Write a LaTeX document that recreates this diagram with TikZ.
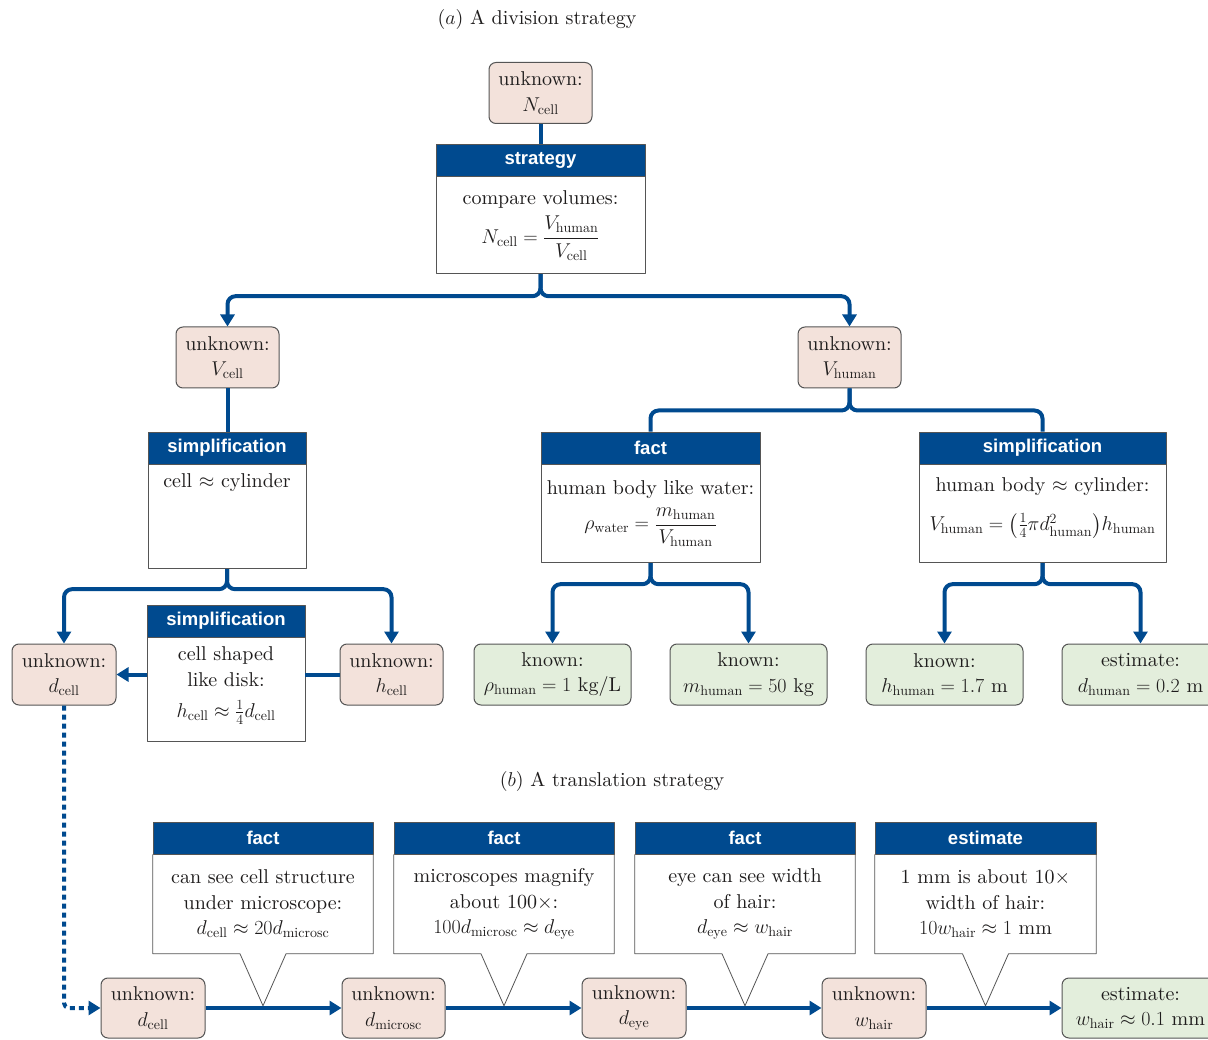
\RequirePackage{fix-cm}
\documentclass[tikz,border=0pt]{standalone}
\usepackage{amsmath}
\usepackage{fontspec}
\setmainfont{lmroman10-regular.otf}[ItalicFont=lmroman10-italic.otf, BoldFont=lmroman10-bold.otf]
\setsansfont{Liberation Sans}
\usetikzlibrary{arrows.meta,calc}
\definecolor{pblue}{RGB}{0,74,143}
\definecolor{unkfill}{RGB}{243,226,219}
\definecolor{knfill}{RGB}{227,238,220}
\definecolor{bordc}{RGB}{85,85,85}
\definecolor{txtc}{RGB}{30,28,28}
\newcommand\mytxt{\fontsize{20}{25.5}\selectfont}
\newcommand\hdrfont{\sffamily\bfseries\fontsize{18.5}{20}\selectfont}
\begin{document}
\begin{tikzpicture}[x=1pt,y=-1pt,line join=round,
  unk/.style={draw=bordc, fill=unkfill, line width=1pt, rounded corners=7pt, inner sep=0pt, align=center, font=\mytxt, text=txtc, minimum height=61pt},
  kn/.style={unk, fill=knfill},
  hdr/.style={draw=bordc, fill=pblue, line width=0.8pt, text=white, font=\hdrfont, minimum height=32pt, inner sep=0pt},
  bodyb/.style={draw=bordc, fill=white, line width=0.8pt, inner sep=0pt, align=center, font=\mytxt, text=txtc},
  calloutb/.style={fill=white, inner sep=0pt, align=center, font=\mytxt, text=txtc, minimum height=99pt},
  outl/.style={draw=bordc, line width=0.8pt},
  txt/.style={font=\mytxt, text=txtc, inner sep=0pt, align=center},
  conn/.style={draw=pblue, line width=4pt},
  arr/.style={-{Triangle[length=12pt,width=14pt]}},
  brc/.style={rounded corners=8pt}]
\clip (0,0) rectangle (1208,1040);
\fill[white] (0,0) rectangle (1208,1040);

% ---------- (a) ----------
\node[txt] (titleA) at (537,20) {($a$) A division strategy};
\node[unk, minimum width=103pt] (ncell) at (540.5,93) {unknown:\\$N_{\mathrm{cell}}$};
\node[hdr, minimum width=209pt] (sH) at (540.5,160) {strategy};
\node[bodyb, minimum width=209pt, minimum height=97pt, anchor=north] (sB) at (sH.south)
  {compare volumes:\\[7pt]$\displaystyle N_{\mathrm{cell}}=\frac{V_{\mathrm{human}}}{V_{\mathrm{cell}}}$};

\node[unk, minimum width=103pt] (vcell) at (227.5,357.5) {unknown:\\$V_{\mathrm{cell}}$};
\node[unk, minimum width=103pt] (vhuman) at (849.5,357.5) {unknown:\\$V_{\mathrm{human}}$};

\node[hdr, minimum width=158pt] (s1H) at (227,448) {simplification};
\node[bodyb, minimum width=158pt, minimum height=104pt, anchor=north] (s1B) at (s1H.south) {};
\node[txt, anchor=north] (s1T) at ($(s1B.north)+(0,9)$) {cell $\approx$ cylinder};

\node[unk, minimum width=104pt] (dcell) at (64,674.5) {unknown:\\$d_{\mathrm{cell}}$};
\node[unk, minimum width=103pt] (hcell) at (391.5,674.5) {unknown:\\$h_{\mathrm{cell}}$};
\node[hdr, minimum width=158pt] (s2H) at (226,621) {simplification};
\node[bodyb, minimum width=158pt, minimum height=104pt, anchor=north] (s2B) at (s2H.south) {};
\node[txt] (s2T) at ($(s2B.center)+(0,-4)$)
  {cell shaped\\like disk:\\[6pt]$h_{\mathrm{cell}}\approx\frac{1}{4}d_{\mathrm{cell}}$};

\node[hdr, minimum width=219pt] (fH) at (650.5,448) {fact};
\node[bodyb, minimum width=219pt, minimum height=98pt, anchor=north] (fB) at (fH.south)
  {human body like water:\\[8pt]$\displaystyle \rho_{\mathrm{water}}=\frac{m_{\mathrm{human}}}{V_{\mathrm{human}}}$};

\node[hdr, minimum width=247pt] (s3H) at (1042.5,448) {simplification};
\node[bodyb, minimum width=247pt, minimum height=98pt, anchor=north] (s3B) at (s3H.south) {};
\node[txt] (s3T) at ($(s3B.center)+(0,-6)$)
  {human body $\approx$ cylinder:\\[14pt]$V_{\mathrm{human}}=\bigl(\frac{1}{4}\pi d^{2}_{\mathrm{human}}\bigr)h_{\mathrm{human}}$};

\node[kn, minimum width=157pt] (k1) at (552.5,674.5) {known:\\$\rho_{\mathrm{human}}=1$ kg/L};
\node[kn, minimum width=157pt] (k2) at (748.5,674.5) {known:\\$m_{\mathrm{human}}=50$ kg};
\node[kn, minimum width=157pt] (k3) at (944.5,674.5) {known:\\$h_{\mathrm{human}}=1.7$ m};
\node[kn, minimum width=157pt] (e1) at (1140.5,674.5) {estimate:\\$d_{\mathrm{human}}=0.2$ m};

% connectors (a)
\draw[conn] (ncell.south) -- (sH.north);
\draw[conn, brc, arr] (sB.south) -- ++(0,22) -| (vcell.north);
\draw[conn, brc, arr] (sB.south) -- ++(0,22) -| (vhuman.north);
\draw[conn] (vcell.south) -- (vcell.south |- s1H.north);
\draw[conn, brc, arr] (s1B.south) -- ++(0,20) -| (dcell.north);
\draw[conn, brc, arr] (s1B.south) -- ++(0,20) -| (hcell.north);
\draw[conn, arr] (s2B.west |- dcell.east) -- (dcell.east);
\draw[conn] (hcell.west) -- (s2B.east |- hcell.west);
\draw[conn, brc] (vhuman.south) -- ++(0,22) -| (fH.north);
\draw[conn, brc] (vhuman.south) -- ++(0,22) -| (s3H.north);
\draw[conn, brc, arr] (fB.south) -- ++(0,21) -| (k1.north);
\draw[conn, brc, arr] (fB.south) -- ++(0,21) -| (k2.north);
\draw[conn, brc, arr] (s3B.south) -- ++(0,21) -| (k3.north);
\draw[conn, brc, arr] (s3B.south) -- ++(0,21) -| (e1.north);

% ---------- (b) ----------
\node[txt] (titleB) at (612,781) {($b$) A translation strategy};

\node[unk, minimum width=104pt, minimum height=60pt] (bd) at (153,1008) {unknown:\\$d_{\mathrm{cell}}$};
\node[unk, minimum width=103pt, minimum height=60pt] (bm) at (393.5,1008) {unknown:\\$d_{\mathrm{microsc}}$};
\node[unk, minimum width=104pt, minimum height=60pt] (be) at (634,1008) {unknown:\\$d_{\mathrm{eye}}$};
\node[unk, minimum width=104pt, minimum height=60pt] (bw) at (874,1008) {unknown:\\$w_{\mathrm{hair}}$};
\node[kn, minimum width=157pt, minimum height=60pt] (e2) at (1140.5,1008) {estimate:\\$w_{\mathrm{hair}}\approx 0.1$ mm};

% callouts
\node[hdr, minimum width=220pt] (c1H) at (263,838) {fact};
\node[calloutb, minimum width=220pt, anchor=north] (c1B) at (c1H.south)
  {can see cell structure\\under microscope:\\$d_{\mathrm{cell}}\approx 20d_{\mathrm{microsc}}$};
\coordinate (p1) at ($(c1B.south)+(0,52)$);
\draw[outl] (c1B.north west) -- (c1B.south west) -- ($(c1B.south)+(-23,0)$) -- (p1) -- ($(c1B.south)+(23,0)$) -- (c1B.south east) -- (c1B.north east);

\node[hdr, minimum width=220pt] (c2H) at (504,838) {fact};
\node[calloutb, minimum width=220pt, anchor=north] (c2B) at (c2H.south)
  {microscopes magnify\\about 100$\times$:\\$100d_{\mathrm{microsc}}\approx d_{\mathrm{eye}}$};
\coordinate (p2) at ($(c2B.south)+(0,52)$);
\draw[outl] (c2B.north west) -- (c2B.south west) -- ($(c2B.south)+(-23,0)$) -- (p2) -- ($(c2B.south)+(23,0)$) -- (c2B.south east) -- (c2B.north east);

\node[hdr, minimum width=220pt] (c3H) at (745,838) {fact};
\node[calloutb, minimum width=220pt, anchor=north] (c3B) at (c3H.south)
  {eye can see width\\of hair:\\$d_{\mathrm{eye}}\approx w_{\mathrm{hair}}$};
\coordinate (p3) at ($(c3B.south)+(0,52)$);
\draw[outl] (c3B.north west) -- (c3B.south west) -- ($(c3B.south)+(-23,0)$) -- (p3) -- ($(c3B.south)+(23,0)$) -- (c3B.south east) -- (c3B.north east);

\node[hdr, minimum width=221pt] (c4H) at (985.5,838) {estimate};
\node[calloutb, minimum width=221pt, anchor=north] (c4B) at (c4H.south)
  {1 mm is about 10$\times$\\width of hair:\\$10w_{\mathrm{hair}}\approx 1$ mm};
\coordinate (p4) at ($(c4B.south)+(0,52)$);
\draw[outl] (c4B.north west) -- (c4B.south west) -- ($(c4B.south)+(-23,0)$) -- (p4) -- ($(c4B.south)+(23,0)$) -- (c4B.south east) -- (c4B.north east);

% connectors (b)
\draw[conn, arr] (bd.east) -- (bm.west);
\draw[conn, arr] (bm.east) -- (be.west);
\draw[conn, arr] (be.east) -- (bw.west);
\draw[conn, arr] (bw.east) -- (e2.west);
\draw[conn, arr, dash pattern=on 5pt off 4pt, rounded corners=5pt] (dcell.south) |- (bd.west);
\end{tikzpicture}
\end{document}
